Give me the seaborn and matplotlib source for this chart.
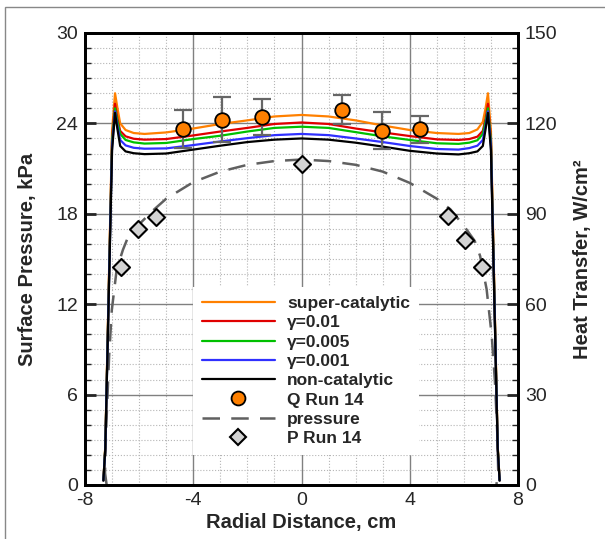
import numpy as np
import pandas as pd
import seaborn as sns
import matplotlib.pyplot as plt
from matplotlib.lines import Line2D
from matplotlib.patches import Rectangle
from matplotlib.ticker import MultipleLocator

# radial stations for the computed heat transfer curves (cm)
r_cm = [-7.32, -7.25, -7.0, -6.89, -6.8, -6.7, -6.5, -6.2, -5.8, -5.0, -4.0, -3.0, -2.0, -1.0, 0.0,
        1.0, 2.0, 3.0, 4.0, 5.0, 5.8, 6.2, 6.5, 6.7, 6.8, 6.89, 7.0, 7.25, 7.32]

# heat transfer, W/cm^2
q_super = [1.5, 13, 117.5, 130, 125, 120, 117.8, 116.8, 116.5, 117, 118.3, 119.8, 121, 122.3, 122.8,
           122.3, 121, 119.3, 117.8, 116.8, 116.5, 116.8, 118, 120.5, 125, 130, 117.5, 13, 1.5]
q_g01 = [1.5, 12.5, 115, 126.5, 121.5, 117.5, 115.7, 114.9, 114.6, 114.8, 116, 117.3, 118.5, 119.8, 120.3,
         119.8, 118.3, 117, 115.8, 114.7, 114.5, 114.8, 115.6, 117.5, 121.5, 126.5, 115, 12.5, 1.5]
q_g005 = [1.5, 12.5, 114, 125, 120.5, 116.5, 114.5, 113.7, 113.3, 113.5, 114.8, 115.9, 117.3, 118.5, 118.9,
          118.5, 117.1, 115.7, 114.5, 113.4, 113.2, 113.6, 114.4, 116.5, 120.5, 125, 114, 12.5, 1.5]
q_g001 = [1.5, 12, 112.5, 124, 119, 114.5, 112.7, 111.9, 111.6, 111.7, 112.8, 114, 115.1, 116.1, 116.5,
          116.1, 115, 113.8, 112.5, 111.5, 111.3, 111.8, 112.6, 114.5, 119, 124, 112.5, 12, 1.5]
q_noncat = [1.5, 12, 111, 123.5, 118, 112.5, 110.7, 110.1, 109.8, 110, 111.3, 112.6, 113.8, 114.6, 115,
            114.6, 113.6, 112.3, 110.9, 110, 109.7, 110.1, 110.7, 112.5, 118, 123.5, 111, 12, 1.5]

# computed surface pressure, kPa
p_r = [-7.2, -7.26, -7.24, -7.2, -7.11, -7.01, -6.83, -6.6, -6.4, -6.0, -5.5, -5.0, -4.0, -3.0, -2.0, -1.0, 0.0,
       1.0, 2.0, 3.0, 4.0, 5.0, 5.5, 6.0, 6.4, 6.6, 6.84, 7.03, 7.15, 7.24, 7.27, 7.2]
p_kpa = [0, 0.8, 2.5, 4.5, 8.5, 11.6, 14.3, 15.6, 16.5, 17.3, 18.2, 19.0, 20.1, 20.8, 21.25, 21.5, 21.6,
         21.5, 21.25, 20.8, 20.05, 19.0, 18.3, 17.2, 16.2, 15.2, 13.0, 9.9, 6.8, 3.2, 0.8, 0]

# measurements, run 14
q_run_r = [-4.37, -2.95, -1.47, 1.49, 2.96, 4.38]
q_run = [118.2, 121.2, 122.0, 124.5, 117.6, 118.0]
q_run_err = [6.4, 7.5, 6.0, 4.8, 6.2, 4.6]
p_run_r = [-6.67, -6.03, -5.39, 0.0, 5.4, 6.04, 6.68]
p_run = [14.45, 16.97, 17.81, 21.3, 17.88, 16.26, 14.45]

labels = ['super-catalytic', 'γ=0.01', 'γ=0.005', 'γ=0.001', 'non-catalytic']
colors = ['#FF8000', '#E00000', '#00C000', '#3030FF', '#000000']
curves = [q_super, q_g01, q_g005, q_g001, q_noncat]

df = pd.concat([pd.DataFrame({'r': r_cm, 'q': c, 'case': lab}) for c, lab in zip(curves, labels)])
df_p = pd.DataFrame({'r': p_r, 'p': p_kpa})

sns.set_style('white')
plt.rcParams['font.family'] = ['Liberation Sans', 'DejaVu Sans']
plt.rcParams['axes.unicode_minus'] = False

fig = plt.figure(figsize=(6.05, 5.39), dpi=100)
ax = fig.add_axes([0.1405, 0.1002, 0.7157, 0.8386])
ax2 = ax.twinx()

# grid on the pressure axis
ax.set_axisbelow(True)
ax.xaxis.set_major_locator(MultipleLocator(4))
ax.xaxis.set_minor_locator(MultipleLocator(1))
ax.yaxis.set_major_locator(MultipleLocator(6))
ax.yaxis.set_minor_locator(MultipleLocator(1))
ax.grid(which='major', color='#808080', lw=1.0, ls='-')
ax.grid(which='minor', color='#b5b5b5', lw=0.8, ls=':')

sns.lineplot(data=df_p, x='r', y='p', ax=ax, sort=False, estimator=None, color='#606060',
             lw=1.8, legend=False)
ax.lines[-1].set_dashes([7, 4.5])
sns.scatterplot(x=p_run_r, y=p_run, ax=ax, marker='D', s=75, color='#d3d3d3',
                edgecolor='black', linewidth=1.5, zorder=5)

sns.lineplot(data=df, x='r', y='q', hue='case', palette=dict(zip(labels, colors)), ax=ax2,
             sort=False, estimator=None, lw=1.6, legend=False)
ax2.errorbar(q_run_r, q_run, yerr=q_run_err, fmt='none', ecolor='#666666', elinewidth=1.6,
             capsize=6.5, capthick=1.6, zorder=4)
sns.scatterplot(x=q_run_r, y=q_run, ax=ax2, marker='o', s=110, color='#FF8000',
                edgecolor='black', linewidth=1.3, zorder=6)

ax.set_xlim(-8, 8)
ax.set_ylim(0, 30)
ax2.set_ylim(0, 150)
ax2.yaxis.set_major_locator(MultipleLocator(30))
ax2.yaxis.set_minor_locator(MultipleLocator(5))

for a in (ax, ax2):
    for s in a.spines.values():
        s.set_linewidth(2)
        s.set_color('black')
ax.tick_params(axis='both', which='major', direction='in', length=8, width=2, labelsize=14, pad=5)
ax.tick_params(axis='y', which='minor', direction='in', length=4, width=1, left=True)
ax.tick_params(axis='x', which='minor', bottom=False)
ax.tick_params(axis='y', right=False)
ax2.tick_params(axis='y', which='major', direction='in', length=8, width=2, labelsize=14, pad=5)
ax2.tick_params(axis='y', which='minor', direction='in', length=4, width=1, right=True)

ax.set_xlabel('Radial Distance, cm', fontsize=14.5, fontweight='bold', labelpad=3)
ax.set_ylabel('Surface Pressure, kPa', fontsize=14.5, fontweight='bold', labelpad=14)
ax2.set_ylabel('Heat Transfer, W/cm²', fontsize=14.5, fontweight='bold', labelpad=11)

handles = [Line2D([], [], color=c, lw=1.6) for c in colors]
handles.append(Line2D([], [], ls='none', marker='o', ms=10, mfc='#FF8000', mec='black', mew=1.3))
handles.append(Line2D([], [], color='#606060', lw=1.8, dashes=[7, 4.5]))
handles.append(Line2D([], [], ls='none', marker='D', ms=8, mfc='#d3d3d3', mec='black', mew=1.5))
leg_labels = labels + ['Q Run 14', 'pressure', 'P Run 14']
leg = ax2.legend(handles, leg_labels, loc='upper left', bbox_to_anchor=(0.23, 0.457),
                 frameon=True, fancybox=False, edgecolor='none', facecolor='white', framealpha=1,
                 prop={'weight': 'bold', 'size': 12.5}, handlelength=4.2, handletextpad=0.7,
                 labelspacing=0.24, borderpad=0.5)
leg.set_zorder(10)

fig.patches.append(Rectangle((5 / 605, -0.1), 1.2, 1.1 - 7 / 539, transform=fig.transFigure,
                             fill=False, edgecolor='#888888', lw=1))

fig.savefig('out.png', dpi=100)
